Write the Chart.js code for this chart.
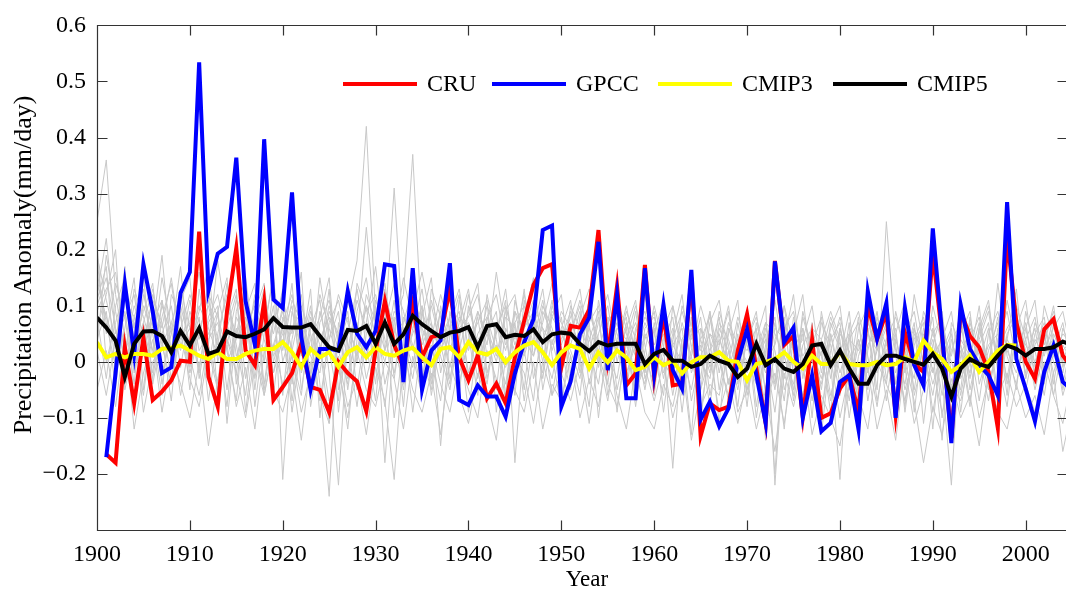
<!DOCTYPE html>
<html>
<head>
<meta charset="utf-8">
<script src="https://cdn.jsdelivr.net/npm/chart.js@4/dist/chart.umd.min.js"></script>
<style>
  html, body { margin: 0; padding: 0; background: #fff; overflow: hidden; }
  #wrap { width: 1070px; height: 591px; }
</style>
</head>
<body>
<div id="wrap"><canvas id="precipChart" width="1070" height="591"></canvas></div>
<script>
// ===== Data (annual anomalies, mm/day) =====
const years = Array.from({ length: 106 }, (_, i) => 1900 + i); // 1900..2005
const xTickValues = [1900, 1910, 1920, 1930, 1940, 1950, 1960, 1970, 1980, 1990, 2000];
const yTickValues = [-0.3, -0.2, -0.1, 0, 0.1, 0.2, 0.3, 0.4, 0.5, 0.6];

const cru = [
  null, -0.165, -0.18, 0.026, -0.074, 0.043, -0.068, -0.053, -0.033, 0.002,
  0.0, 0.232, -0.027, -0.08, 0.09, 0.203, 0.02, -0.006, 0.108, -0.068,
  -0.045, -0.02, 0.032, -0.045, -0.05, -0.09, 0.0, -0.02, -0.035, -0.088,
  0.02, 0.108, 0.03, -0.01, 0.1, 0.008, 0.044, 0.049, 0.13, 0.008,
  -0.033, 0.011, -0.065, -0.039, -0.074, 0.008, 0.073, 0.137, 0.167, 0.174,
  -0.01, 0.064, 0.061, 0.093, 0.235, 0.008, 0.135, -0.042, -0.021, 0.173,
  -0.027, 0.085, -0.042, -0.039, 0.15, -0.132, -0.074, -0.086, -0.08, 0.02,
  0.085, -0.012, -0.109, 0.18, 0.03, 0.046, -0.098, 0.04, -0.1, -0.092,
  -0.048, -0.024, -0.089, 0.1, 0.04, 0.088, -0.095, 0.052, -0.004, -0.018,
  0.194, 0.046, -0.136, 0.09, 0.046, 0.026, -0.018, -0.118, 0.223, 0.07,
  0.0, -0.03, 0.058, 0.076, 0.011, -0.01
];

const gpcc = [
  null, -0.17, -0.02, 0.139, 0.014, 0.174, 0.09, -0.02, -0.01, 0.123,
  0.16, 0.534, 0.127, 0.193, 0.205, 0.364, 0.108, 0.03, 0.397, 0.111,
  0.096, 0.302, 0.044, -0.05, 0.023, 0.023, 0.02, 0.126, 0.05, 0.026,
  0.055, 0.174, 0.171, -0.036, 0.167, -0.05, 0.02, 0.038, 0.176, -0.068,
  -0.077, -0.042, -0.062, -0.062, -0.098, -0.021, 0.035, 0.076, 0.235, 0.243,
  -0.08, -0.035, 0.049, 0.079, 0.214, -0.015, 0.12, -0.065, -0.065, 0.167,
  -0.021, 0.102, -0.015, -0.048, 0.164, -0.103, -0.071, -0.115, -0.083, 0.0,
  0.058, -0.024, -0.109, 0.179, 0.035, 0.061, -0.1, -0.024, -0.124, -0.109,
  -0.036, -0.024, -0.121, 0.126, 0.041, 0.105, -0.1, 0.096, -0.006, -0.042,
  0.238, 0.05, -0.145, 0.102, 0.023, -0.006, -0.024, -0.06, 0.285, 0.005,
  -0.048, -0.106, -0.018, 0.029, -0.036, -0.05
];

const cmip3 = [
  0.035, 0.008, 0.014, 0.008, 0.014, 0.014, 0.011, 0.023, 0.025, 0.029,
  0.02, 0.011, 0.005, 0.017, 0.005, 0.005, 0.014, 0.02, 0.023, 0.023,
  0.035, 0.017, -0.009, 0.023, 0.008, 0.017, -0.009, 0.017, 0.026, 0.008,
  0.026, 0.014, 0.011, 0.02, 0.025, 0.008, -0.006, 0.023, 0.026, 0.008,
  0.035, 0.017, 0.013, 0.023, -0.001, 0.017, 0.029, 0.035, 0.017, -0.006,
  0.017, 0.029, 0.023, -0.012, 0.017, -0.001, 0.02, 0.008, -0.015, -0.009,
  0.008, -0.006, 0.002, -0.021, -0.001, 0.008, 0.008, 0.017, 0.002, 0.0,
  -0.033, -0.004, 0.0, 0.005, 0.017, 0.0, -0.012, 0.011, -0.004, -0.004,
  0.017, -0.004, -0.006, -0.006, 0.0, -0.006, -0.004, 0.008, 0.0, 0.038,
  0.017, 0.005, -0.018, -0.006, 0.011, -0.018, 0.0, 0.02, 0.03, 0.029
];

const cmip5 = [
  0.079, 0.061, 0.038, -0.027, 0.032, 0.054, 0.055, 0.046, 0.017, 0.055,
  0.029, 0.06, 0.014, 0.02, 0.054, 0.046, 0.044, 0.05, 0.058, 0.078,
  0.062, 0.061, 0.061, 0.067, 0.046, 0.026, 0.02, 0.057, 0.055, 0.064,
  0.032, 0.07, 0.032, 0.049, 0.082, 0.067, 0.055, 0.044, 0.052, 0.055,
  0.062, 0.026, 0.064, 0.067, 0.044, 0.048, 0.046, 0.058, 0.035, 0.049,
  0.052, 0.05, 0.032, 0.019, 0.035, 0.029, 0.032, 0.032, 0.032, -0.004,
  0.014, 0.021, 0.002, 0.002, -0.009, -0.004, 0.011, 0.002, -0.004, -0.027,
  -0.012, 0.032, -0.006, 0.005, -0.012, -0.018, -0.004, 0.029, 0.032, -0.006,
  0.02, -0.012, -0.039, -0.039, -0.006, 0.011, 0.011, 0.005, 0.0, -0.005,
  0.014, -0.012, -0.062, -0.012, 0.005, -0.004, -0.009, 0.011, 0.029, 0.023,
  0.011, 0.023, 0.023, 0.026, 0.036, 0.03
];

// individual model runs (grey spaghetti)
const run01 = [
  0.25, 0.36, 0.12, 0.02, 0.10, 0.05, -0.03, 0.08, 0.14, 0.03,
  0.06, -0.02, 0.11, 0.04, -0.08, 0.09, 0.15, 0.02, -0.05, 0.07,
  0.12, 0.01, -0.06, 0.08, 0.03, -0.11, 0.05, 0.10, 0.18, 0.42,
  0.08, 0.02, 0.11, -0.04, 0.06, 0.13, 0.01, -0.07, 0.09, 0.04,
  0.12, 0.02, 0.07, -0.05, 0.10, 0.03, 0.08, 0.15, 0.02, -0.03,
  0.06, 0.11, -0.02, 0.04, 0.09, -0.06, 0.03, 0.10, 0.01, -0.04,
  0.07, -0.03, 0.05, 0.12, -0.02, 0.03, -0.08, 0.06, 0.02, -0.05,
  0.04, 0.09, -0.06, 0.01, -0.12, 0.05, 0.12, -0.03, 0.02, -0.09,
  0.06, -0.02, 0.08, -0.07, 0.03, 0.10, -0.04, 0.01, 0.07, -0.11,
  0.03, 0.09, -0.05, 0.02, -0.08, 0.06, 0.11, -0.02, 0.04, 0.13,
  -0.03, 0.05, 0.08, -0.04, 0.06, 0.02
];
const run02 = [
  0.18, 0.05, 0.14, 0.08, -0.04, 0.12, 0.06, 0.19, 0.01, 0.09,
  -0.05, 0.13, 0.03, 0.18, 0.07, -0.02, 0.10, -0.08, 0.05, 0.16,
  -0.21, 0.04, 0.12, -0.03, 0.09, 0.02, -0.07, 0.14, 0.05, 0.00,
  0.11, 0.06, 0.31, 0.04, -0.03, 0.08, 0.15, -0.02, 0.06, 0.12,
  -0.04, 0.09, 0.03, 0.16, 0.05, -0.06, 0.11, 0.01, 0.07, 0.14,
  0.02, -0.05, 0.08, 0.13, -0.01, 0.06, -0.09, 0.04, 0.10, 0.03,
  -0.06, 0.09, 0.02, -0.04, 0.08, -0.11, 0.05, 0.01, -0.07, 0.07,
  -0.02, 0.04, 0.10, -0.22, 0.03, -0.05, 0.08, 0.02, -0.10, 0.05,
  -0.04, 0.07, -0.13, 0.02, 0.09, -0.03, 0.05, 0.11, -0.06, 0.01,
  0.08, -0.10, 0.04, -0.02, 0.07, 0.01, -0.07, 0.06, 0.03, -0.05,
  0.09, 0.02, -0.06, 0.05, 0.01, -0.03
];
const run03 = [
  0.11, 0.17, -0.02, 0.06, 0.15, -0.05, 0.10, 0.03, 0.07, 0.12,
  0.02, 0.08, -0.07, 0.05, 0.12, 0.03, -0.06, 0.09, 0.14, 0.00,
  0.06, -0.09, 0.03, 0.10, -0.04, -0.24, 0.07, 0.01, 0.09, 0.15,
  0.03, -0.08, 0.07, 0.12, 0.37, 0.05, -0.04, 0.10, 0.02, 0.08,
  0.06, -0.03, 0.12, 0.04, -0.07, 0.09, 0.02, 0.06, 0.13, 0.01,
  -0.08, 0.05, 0.10, 0.00, 0.07, 0.12, 0.03, -0.05, 0.06, 0.09,
  0.01, -0.06, 0.10, 0.03, -0.13, 0.06, 0.02, 0.08, -0.04, 0.03,
  0.07, -0.08, 0.03, 0.11, 0.01, -0.04, 0.06, -0.10, 0.09, 0.00,
  -0.21, 0.04, 0.02, 0.06, -0.05, 0.25, 0.03, -0.08, 0.05, 0.02,
  -0.06, 0.04, 0.09, -0.03, 0.01, 0.10, -0.05, 0.03, 0.22, 0.04,
  -0.02, 0.07, 0.03, 0.10, -0.01, 0.05
];
const run04 = [
  0.06, 0.12, 0.20, -0.05, 0.03, 0.09, 0.14, -0.02, 0.05, 0.11,
  0.15, -0.03, 0.07, 0.10, -0.11, 0.06, 0.02, 0.12, -0.04, 0.08,
  0.03, 0.14, -0.05, 0.06, 0.11, -0.02, -0.22, 0.05, 0.13, 0.03,
  -0.07, 0.10, 0.04, -0.05, 0.09, 0.16, 0.07, -0.15, 0.05, 0.02,
  0.09, 0.14, -0.02, 0.05, 0.11, -0.18, 0.04, 0.08, 0.00, 0.10,
  0.05, 0.01, -0.06, 0.09, 0.04, 0.00, 0.11, 0.06, -0.07, 0.02,
  0.10, 0.03, -0.19, 0.04, 0.07, -0.03, 0.09, -0.05, 0.05, 0.11,
  -0.06, 0.02, 0.07, -0.04, 0.10, 0.03, -0.09, 0.05, 0.01, 0.08,
  0.03, -0.07, 0.06, 0.10, -0.02, 0.04, -0.11, 0.07, 0.00, -0.05,
  0.06, -0.03, -0.22, 0.05, 0.09, -0.04, 0.02, 0.07, -0.06, 0.10,
  0.04, -0.05, 0.02, 0.06, 0.09, 0.01
];
const run05 = [
  0.21, 0.00, 0.07, 0.13, 0.06, 0.16, -0.04, 0.05, 0.10, -0.01,
  0.09, 0.04, 0.14, -0.06, 0.03, 0.11, 0.07, -0.01, 0.10, 0.05,
  0.13, -0.04, 0.08, 0.02, 0.12, 0.06, 0.00, -0.12, 0.04, 0.24,
  0.06, 0.13, -0.03, 0.08, 0.03, -0.06, 0.11, 0.05, 0.14, -0.02,
  0.03, 0.07, 0.11, -0.09, 0.06, 0.02, 0.13, -0.03, 0.04, 0.08,
  0.12, -0.02, 0.04, 0.07, -0.10, 0.05, 0.02, 0.09, 0.04, -0.05,
  0.05, 0.11, -0.02, 0.07, 0.01, 0.08, -0.06, 0.03, 0.10, -0.02,
  0.09, 0.03, -0.05, 0.06, 0.04, 0.12, -0.03, 0.07, -0.13, 0.02,
  0.08, 0.01, -0.03, 0.09, 0.05, -0.07, 0.04, -0.02, 0.12, 0.03,
  -0.04, 0.02, 0.06, -0.09, 0.04, 0.08, -0.02, 0.14, 0.01, -0.04,
  0.06, 0.11, -0.03, 0.02, 0.07, -0.02
];
const run06 = [
  0.14, 0.08, 0.03, 0.17, -0.08, 0.04, 0.11, 0.07, -0.03, 0.06,
  0.12, 0.07, -0.01, 0.09, 0.15, -0.04, 0.08, 0.03, 0.11, -0.06,
  0.08, 0.05, 0.16, -0.08, 0.02, 0.10, 0.04, 0.09, -0.05, 0.07,
  0.17, 0.02, 0.09, 0.06, -0.09, 0.04, 0.10, 0.03, -0.04, 0.11,
  0.05, -0.06, 0.08, 0.12, 0.03, 0.07, -0.05, 0.10, 0.06, 0.03,
  0.09, 0.06, 0.01, -0.08, 0.11, 0.03, 0.07, -0.03, 0.05, 0.12,
  -0.03, 0.04, 0.08, -0.06, 0.02, 0.10, 0.04, -0.11, 0.06, 0.01,
  0.05, -0.10, 0.02, 0.08, -0.05, 0.01, 0.04, 0.10, -0.02, 0.06,
  0.10, -0.03, 0.04, -0.02, 0.08, 0.01, 0.06, -0.09, 0.03, 0.07,
  -0.12, 0.06, 0.01, 0.09, -0.05, 0.03, 0.07, -0.06, 0.05, 0.08,
  0.02, -0.04, 0.10, 0.04, -0.02, 0.06
];
const run07 = [
  0.03, 0.19, 0.09, 0.00, 0.13, 0.08, 0.02, 0.15, 0.06, -0.06,
  0.04, 0.10, 0.06, 0.01, 0.08, 0.13, -0.09, 0.05, 0.02, 0.10,
  -0.06, 0.09, 0.02, 0.13, -0.10, 0.07, 0.11, 0.03, -0.08, 0.05,
  0.09, -0.18, 0.05, 0.15, 0.07, 0.01, -0.05, 0.06, 0.11, 0.05,
  -0.09, 0.04, 0.06, 0.01, 0.09, 0.12, 0.02, -0.07, 0.09, 0.05,
  0.03, 0.08, 0.13, 0.02, -0.04, 0.08, 0.05, 0.00, 0.09, -0.02,
  0.06, -0.09, 0.04, 0.09, 0.03, -0.05, 0.07, 0.11, -0.01, 0.04,
  0.02, 0.06, -0.14, 0.04, 0.08, -0.07, 0.03, 0.06, 0.04, -0.06,
  0.01, 0.09, -0.06, 0.05, 0.02, 0.07, -0.04, 0.10, -0.09, 0.05,
  0.02, -0.14, 0.07, 0.03, -0.02, 0.05, 0.10, 0.00, -0.08, 0.06,
  0.11, -0.01, 0.05, -0.06, 0.03, 0.00
];
const run08 = [
  0.09, 0.13, 0.16, 0.04, 0.01, 0.10, 0.05, -0.06, 0.12, 0.08,
  -0.02, 0.05, 0.12, 0.08, 0.02, -0.07, 0.11, 0.06, 0.00, 0.13,
  0.02, 0.11, 0.07, -0.02, 0.15, 0.04, 0.09, -0.05, 0.07, -0.03,
  0.04, 0.08, -0.10, 0.03, 0.12, -0.03, 0.06, 0.02, 0.08, -0.06,
  0.10, 0.03, -0.04, 0.07, 0.02, 0.09, 0.06, 0.11, -0.05, 0.04,
  -0.03, 0.10, 0.06, 0.02, 0.08, -0.04, 0.09, 0.05, 0.01, 0.07,
  0.03, 0.07, -0.04, 0.02, 0.10, 0.04, -0.02, 0.09, 0.03, -0.08,
  0.06, 0.01, 0.05, -0.20, 0.06, 0.09, 0.00, -0.05, 0.07, 0.03,
  -0.06, 0.05, 0.09, 0.01, -0.08, 0.04, 0.08, 0.02, -0.03, 0.09,
  0.05, 0.00, -0.05, 0.08, 0.03, -0.07, 0.05, 0.09, 0.02, -0.02,
  0.04, 0.08, -0.02, 0.01, 0.05, 0.03
];
const run09 = [
  -0.05, 0.02, -0.08, 0.05, -0.12, -0.02, 0.04, -0.09, 0.01, -0.04,
  -0.10, 0.00, -0.15, -0.03, 0.03, -0.08, -0.01, -0.12, 0.02, -0.05,
  -0.09, -0.02, -0.14, 0.00, -0.06, -0.11, 0.01, -0.08, -0.03, -0.13,
  -0.01, -0.07, -0.21, 0.02, -0.05, -0.09, -0.02, -0.13, 0.00, -0.06,
  -0.11, -0.02, -0.07, -0.14, 0.01, -0.05, -0.09, 0.00, -0.12, -0.04,
  -0.07, 0.01, -0.10, -0.03, -0.08, 0.02, -0.06, -0.12, -0.01, -0.09,
  -0.12, -0.04, -0.08, 0.00, -0.14, -0.05, 0.01, -0.09, -0.03, -0.11,
  -0.03, -0.12, -0.05, -0.16, -0.02, -0.08, 0.00, -0.13, -0.06, -0.10,
  -0.15, -0.04, -0.09, -0.01, -0.12, -0.05, -0.14, 0.00, -0.07, -0.18,
  -0.08, -0.13, -0.03, -0.10, -0.06, -0.15, -0.02, -0.09, -0.12, -0.04,
  -0.10, -0.06, -0.13, -0.02, -0.16, -0.08
];
const run10 = [
  0.16, 0.07, -0.01, 0.11, 0.08, 0.02, 0.12, 0.06, 0.15, 0.04,
  0.07, 0.16, 0.03, -0.04, 0.10, 0.05, 0.13, -0.03, 0.08, 0.02,
  0.10, -0.07, 0.05, 0.07, 0.01, 0.13, -0.09, 0.06, 0.02, 0.10,
  -0.04, 0.12, 0.06, 0.01, 0.08, -0.05, 0.13, 0.08, -0.01, 0.07,
  0.13, 0.00, 0.05, 0.09, -0.06, 0.11, 0.04, 0.01, 0.10, 0.06,
  0.00, 0.07, 0.03, 0.11, 0.01, -0.07, 0.04, 0.08, -0.05, 0.06,
  0.08, 0.01, 0.06, -0.09, 0.05, 0.02, 0.09, 0.00, -0.06, 0.05,
  -0.08, 0.07, 0.00, 0.03, 0.10, -0.02, 0.05, -0.07, 0.04, 0.09,
  0.04, -0.10, 0.01, 0.07, 0.03, -0.04, 0.09, 0.02, 0.06, -0.03,
  0.10, 0.03, -0.09, 0.01, 0.06, 0.02, -0.05, 0.04, 0.09, 0.00,
  -0.05, 0.03, 0.07, 0.00, -0.04, 0.04
];
const run11 = [
  0.12, 0.22, 0.05, 0.09, -0.02, 0.07, 0.13, 0.04, -0.07, 0.10,
  0.03, 0.09, 0.17, 0.00, 0.06, 0.12, -0.03, 0.07, 0.13, 0.01,
  0.05, 0.10, -0.02, 0.04, 0.08, 0.15, -0.05, 0.02, 0.11, 0.06,
  0.01, 0.07, 0.14, 0.09, 0.02, 0.10, -0.06, 0.04, 0.08, 0.13,
  0.02, 0.08, -0.03, 0.06, 0.10, 0.04, 0.12, 0.05, -0.02, 0.09,
  0.07, 0.03, 0.09, -0.04, 0.05, 0.10, 0.00, 0.06, 0.11, -0.03,
  0.02, 0.06, 0.10, 0.01, -0.05, 0.04, 0.08, -0.02, 0.07, 0.03,
  0.00, -0.04, 0.06, 0.02, -0.07, 0.08, 0.01, 0.04, -0.05, 0.07,
  0.02, 0.05, -0.08, 0.03, 0.06, 0.00, -0.06, 0.05, 0.09, -0.01,
  0.04, -0.06, 0.02, 0.07, -0.03, 0.06, 0.00, 0.08, -0.04, 0.05,
  0.01, 0.06, -0.04, 0.07, 0.02, 0.04
];
const run12 = [
  0.08, -0.03, 0.10, 0.15, 0.04, -0.06, 0.07, 0.11, 0.02, 0.13,
  0.06, -0.01, 0.08, 0.12, 0.04, 0.00, 0.09, 0.14, -0.06, 0.03,
  0.09, 0.02, 0.10, 0.05, -0.07, 0.04, 0.12, 0.07, 0.01, 0.10,
  0.05, 0.00, 0.08, -0.08, 0.11, 0.03, 0.07, 0.01, -0.05, 0.06,
  0.08, 0.12, 0.01, 0.03, -0.04, 0.07, 0.10, 0.03, 0.06, -0.06,
  0.04, 0.09, 0.00, 0.06, 0.02, 0.08, -0.05, 0.03, 0.07, 0.01,
  -0.04, 0.08, 0.03, 0.06, -0.07, 0.01, 0.05, 0.03, 0.09, -0.04,
  0.04, 0.08, 0.01, -0.09, 0.05, 0.02, -0.06, 0.03, 0.08, -0.03,
  0.06, 0.00, 0.04, -0.05, 0.07, 0.03, 0.01, -0.07, 0.04, 0.08,
  -0.02, 0.05, -0.07, 0.04, 0.01, 0.07, -0.04, 0.02, 0.06, 0.09,
  -0.03, 0.04, 0.01, 0.08, -0.05, 0.02
];
const run13 = [
  0.10, 0.15, 0.06, -0.03, 0.08, 0.13, 0.01, 0.10, 0.05, 0.17,
  -0.01, 0.06, 0.10, 0.03, 0.14, 0.01, 0.06, 0.10, 0.04, -0.02,
  0.07, 0.12, 0.01, 0.09, 0.04, 0.08, 0.02, -0.04, 0.14, 0.09,
  0.12, 0.04, -0.02, 0.07, 0.13, 0.06, 0.02, 0.09, -0.03, 0.05,
  0.07, 0.02, 0.10, 0.05, 0.13, -0.01, 0.06, 0.09, 0.03, 0.11,
  -0.01, 0.05, 0.11, 0.04, 0.00, 0.07, 0.10, -0.02, 0.03, 0.08,
  0.05, 0.00, -0.03, 0.10, 0.04, 0.06, -0.01, 0.04, 0.00, 0.08,
  0.03, -0.02, 0.07, 0.05, 0.01, -0.06, 0.09, 0.02, -0.03, 0.04,
  0.07, -0.05, 0.03, 0.08, -0.01, 0.11, 0.02, -0.04, 0.06, 0.00,
  0.05, 0.08, -0.02, 0.03, -0.07, 0.04, 0.09, -0.01, 0.11, 0.03,
  0.06, -0.02, 0.04, 0.09, 0.00, 0.05
];
const run14 = [
  0.02, -0.06, 0.04, -0.01, 0.07, -0.09, 0.00, 0.03, -0.04, 0.05,
  -0.03, -0.08, 0.02, -0.05, 0.04, -0.02, -0.10, 0.01, -0.06, 0.03,
  -0.04, 0.01, -0.09, -0.02, 0.03, -0.07, -0.01, -0.10, 0.02, -0.05,
  -0.08, 0.00, -0.03, -0.12, 0.01, -0.06, 0.03, -0.04, -0.09, 0.00,
  -0.05, -0.10, 0.02, -0.03, -0.07, 0.01, -0.02, -0.11, 0.00, -0.06,
  -0.02, -0.07, 0.00, -0.11, 0.01, -0.04, -0.08, 0.02, -0.05, -0.01,
  -0.07, 0.00, -0.10, -0.03, 0.01, -0.08, -0.04, -0.06, 0.02, -0.09,
  -0.05, 0.01, -0.08, -0.02, -0.11, 0.00, -0.06, -0.03, -0.09, 0.01,
  -0.10, -0.02, -0.06, -0.12, 0.00, -0.04, -0.08, -0.01, -0.11, -0.05,
  -0.01, -0.09, -0.04, -0.07, 0.00, -0.10, -0.03, -0.06, -0.02, -0.08,
  -0.04, -0.09, 0.00, -0.06, -0.11, -0.03
];
const run15 = [
  0.19, 0.11, 0.04, 0.08, 0.12, 0.01, 0.09, -0.04, 0.07, 0.02,
  0.11, 0.02, 0.05, 0.09, -0.05, 0.08, 0.04, 0.11, 0.06, 0.15,
  0.00, 0.06, 0.09, -0.06, 0.07, 0.11, 0.03, 0.08, 0.00, 0.12,
  0.07, 0.14, 0.02, 0.05, -0.01, 0.09, 0.04, 0.12, 0.06, -0.04,
  0.04, 0.09, 0.05, 0.00, 0.08, 0.06, -0.07, 0.04, 0.11, 0.02,
  0.08, -0.04, 0.05, 0.09, 0.03, -0.02, 0.06, 0.04, -0.08, 0.05,
  0.01, 0.05, -0.06, 0.04, 0.07, 0.00, -0.03, 0.07, 0.04, -0.02,
  0.06, 0.00, 0.04, -0.05, 0.07, 0.02, 0.06, 0.00, -0.04, 0.05,
  -0.02, 0.04, 0.07, -0.04, 0.02, 0.06, -0.02, 0.04, -0.05, 0.06,
  0.01, 0.04, 0.00, -0.05, 0.08, -0.02, 0.03, 0.05, -0.03, 0.07,
  0.03, 0.00, 0.05, -0.02, 0.04, 0.01
];
const run16 = [
  0.04, 0.09, -0.05, 0.12, 0.02, 0.07, -0.02, 0.11, 0.00, 0.06,
  0.01, -0.06, 0.04, 0.07, 0.00, 0.04, 0.12, -0.05, 0.09, -0.02,
  0.04, -0.03, 0.06, 0.01, -0.02, 0.09, 0.05, -0.03, 0.06, 0.01,
  0.10, -0.04, 0.03, 0.00, 0.05, 0.10, -0.03, 0.02, 0.06, 0.09,
  -0.02, 0.05, 0.08, 0.02, -0.01, 0.05, 0.01, 0.07, -0.03, 0.08,
  0.05, 0.02, -0.03, 0.07, 0.10, 0.01, -0.03, 0.07, 0.02, 0.04,
  0.09, -0.02, 0.03, 0.00, 0.06, -0.09, 0.02, 0.05, -0.04, 0.03,
  -0.05, 0.03, -0.02, 0.07, -0.03, 0.05, -0.01, 0.04, 0.01, -0.07,
  0.05, 0.02, -0.04, 0.06, -0.07, 0.02, 0.05, -0.05, 0.01, 0.04,
  -0.09, 0.01, 0.05, -0.06, 0.03, 0.00, 0.06, -0.08, 0.04, 0.01,
  0.07, -0.03, 0.02, 0.04, -0.06, 0.00
];
const modelRuns = [run01, run02, run03, run04, run05, run06, run07, run08,
  run09, run10, run11, run12, run13, run14, run15, run16];

// ===== Style =====
const SERIF = '"Liberation Serif", "Times New Roman", serif';
Chart.defaults.font.family = SERIF;
Chart.defaults.color = '#000';

function fmtY(v) {
  if (Math.abs(v + 0.3) < 1e-6) return '';
  let s = Math.abs(v) < 1e-9 ? '0' : v.toFixed(1);
  return s.replace('-', '\u2212');
}

// ===== Datasets =====
// lower "order" is drawn on top
const datasets = [
  { label: 'CMIP5', data: cmip5, borderColor: '#000000', borderWidth: 4, order: 0 },
  { label: 'CMIP3', data: cmip3, borderColor: '#ffff00', borderWidth: 4, order: 1 },
  { label: 'GPCC', data: gpcc, borderColor: '#0000ff', borderWidth: 4, order: 2 },
  { label: 'CRU', data: cru, borderColor: '#ff0000', borderWidth: 4, order: 3 }
];
modelRuns.forEach((run, i) => {
  datasets.push({ label: 'run' + (i + 1), data: run, borderColor: '#c8c8c8', borderWidth: 1, order: 10 });
});
datasets.forEach(d => {
  d.pointRadius = 0;
  d.tension = 0;
  d.fill = false;
});

// ===== Frame, inward ticks, zero line, axis titles =====
const framePlugin = {
  id: 'frame',
  beforeDatasetsDraw(chart) {
    const { ctx, chartArea: a, scales: { y } } = chart;
    const y0 = Math.round(y.getPixelForValue(0)) + 0.5;
    ctx.save();
    ctx.strokeStyle = '#000';
    ctx.lineWidth = 1;
    ctx.beginPath();
    ctx.moveTo(a.left, y0);
    ctx.lineTo(a.right, y0);
    ctx.stroke();
    ctx.restore();
  },
  afterDatasetsDraw(chart) {
    const { ctx, chartArea: a, scales: { x, y } } = chart;
    const L = Math.round(a.left) + 0.5, R = Math.round(a.right) + 0.5;
    const T = Math.round(a.top) + 0.5, B = Math.round(a.bottom) + 0.5;
    const tl = 10;
    ctx.save();
    ctx.strokeStyle = '#333';
    ctx.lineWidth = 1.2;
    ctx.beginPath();
    ctx.rect(L, T, R - L, B - T);
    xTickValues.forEach(v => {
      const px = Math.round(x.getPixelForValue(v)) + 0.5;
      ctx.moveTo(px, B); ctx.lineTo(px, B - tl);
      ctx.moveTo(px, T); ctx.lineTo(px, T + tl);
    });
    yTickValues.forEach(v => {
      const py = Math.round(y.getPixelForValue(v)) + 0.5;
      ctx.moveTo(L, py); ctx.lineTo(L + tl, py);
      ctx.moveTo(R, py); ctx.lineTo(R - tl, py);
    });
    ctx.stroke();

    // axis titles
    ctx.fillStyle = '#000';
    ctx.textAlign = 'center';
    ctx.textBaseline = 'middle';
    ctx.font = '23px ' + SERIF;
    ctx.fillText('Year', 587, 580);
    ctx.translate(24, 265);
    ctx.rotate(-Math.PI / 2);
    ctx.font = '26px ' + SERIF;
    ctx.fillText('Precipitation Anomaly(mm/day)', 0, 0);
    ctx.restore();
  }
};

// ===== Legend inside the plot =====
const legendPlugin = {
  id: 'inlineLegend',
  afterDraw(chart) {
    const { ctx } = chart;
    const entries = ['CRU', 'GPCC', 'CMIP3', 'CMIP5'];
    const starts = [343, 492, 658, 833];
    const ly = 84;
    ctx.save();
    ctx.font = '24px ' + SERIF;
    ctx.textBaseline = 'middle';
    ctx.fillStyle = '#000';
    entries.forEach((name, i) => {
      const ds = chart.data.datasets.find(d => d.label === name);
      ctx.strokeStyle = ds.borderColor;
      ctx.lineWidth = 4;
      ctx.beginPath();
      ctx.moveTo(starts[i], ly);
      ctx.lineTo(starts[i] + 74, ly);
      ctx.stroke();
      ctx.fillText(name, starts[i] + 84, ly + 1);
    });
    ctx.restore();
  }
};

new Chart(document.getElementById('precipChart'), {
  type: 'line',
  data: { labels: years, datasets: datasets },
  options: {
    responsive: false,
    animation: false,
    devicePixelRatio: 1,
    layout: { padding: { top: 19, right: 3, left: 0, bottom: 0 } },
    plugins: { legend: { display: false }, tooltip: { enabled: false } },
    scales: {
      x: {
        type: 'linear',
        min: 1900,
        max: 2004.45,
        grid: { display: false, drawTicks: false },
        border: { display: false },
        ticks: {
          stepSize: 10,
          includeBounds: false,
          autoSkip: false,
          maxRotation: 0,
          padding: 10,
          font: { size: 24 },
          callback: v => String(v)
        },
        afterFit: s => { s.height = 61; }
      },
      y: {
        min: -0.3,
        max: 0.6,
        grid: { display: false, drawTicks: false },
        border: { display: false },
        ticks: {
          stepSize: 0.1,
          padding: 11,
          font: { size: 24 },
          callback: v => fmtY(v)
        },
        afterFit: s => { s.width = 97; }
      }
    }
  },
  plugins: [framePlugin, legendPlugin]
});
</script>
</body>
</html>
